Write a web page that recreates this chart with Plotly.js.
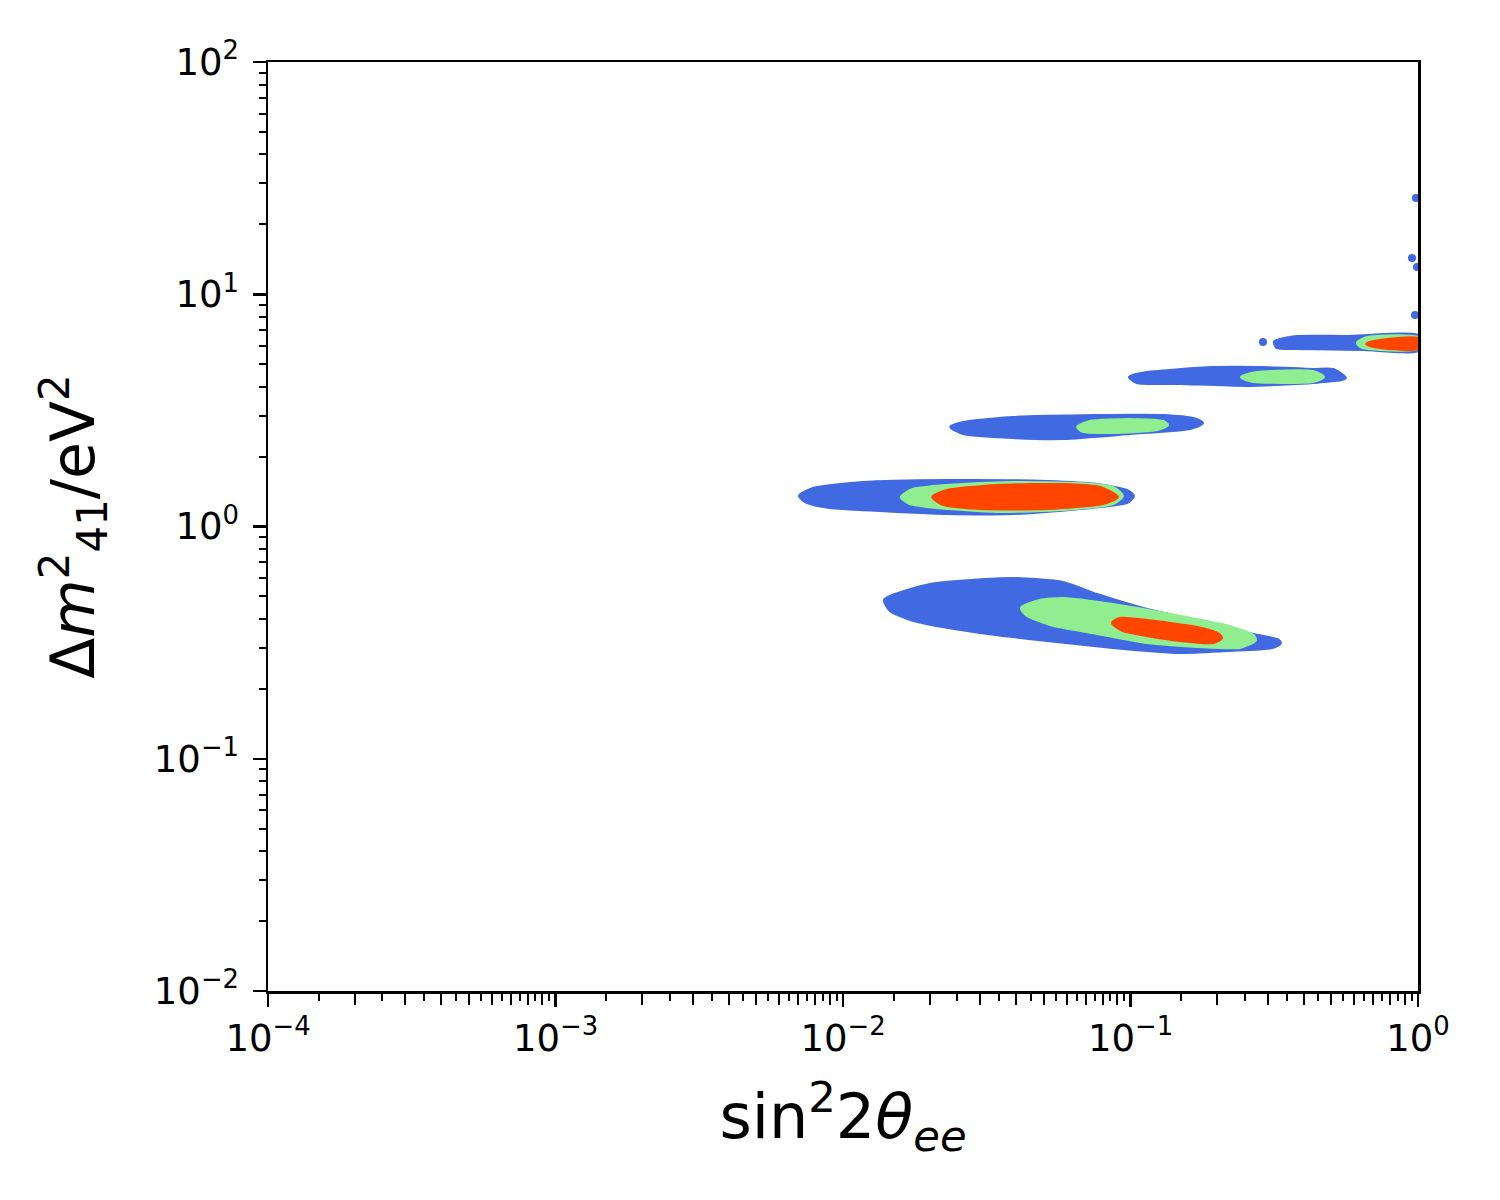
<!DOCTYPE html>
<html>
<head>
<meta charset="utf-8">
<script src="https://cdn.plot.ly/plotly-3.0.1.min.js"></script>
<style>
  body { margin: 0; background: #fff; }
  #chart { width: 1500px; height: 1200px; }
</style>
</head>
<body>
<div id="chart"></div>
<script>
// allowed regions (outlines of the point clouds)
// lowest island, dm2 ~ 0.3-0.6 eV^2
var lowBlueX  = [0.0140, 0.0201, 0.0390, 0.0582, 0.0764, 0.114, 0.194, 0.267, 0.323, 0.331, 0.313, 0.222, 0.149, 0.0869, 0.0513, 0.0300, 0.0175, 0.0146];
var lowBlueY  = [0.483, 0.560, 0.594, 0.571, 0.507, 0.437, 0.377, 0.341, 0.3245, 0.315, 0.303, 0.294, 0.288, 0.303, 0.3245, 0.351, 0.396, 0.437];
var lowGreenX = [0.0419, 0.0484, 0.0582, 0.0869, 0.149, 0.222, 0.267, 0.271, 0.240, 0.170, 0.114, 0.0764, 0.0538, 0.0437];
var lowGreenY = [0.446, 0.478, 0.487, 0.459, 0.408, 0.369, 0.338, 0.3245, 0.303, 0.306, 0.318, 0.348, 0.377, 0.416];
var lowRedX   = [0.0869, 0.0919, 0.114, 0.170, 0.2015, 0.2065, 0.194, 0.149, 0.114, 0.0942];
var lowRedY   = [0.384, 0.400, 0.392, 0.366, 0.344, 0.331, 0.318, 0.3245, 0.341, 0.358];

// island at dm2 ~ 1.35 eV^2
var midBlueX  = [0.00709, 0.00787, 0.01174, 0.0230, 0.0513, 0.0764, 0.0972, 0.102, 0.0972, 0.0667, 0.0390, 0.0230, 0.01345, 0.00901, 0.00750];
var midBlueY  = [1.353, 1.450, 1.539, 1.570, 1.555, 1.509, 1.422, 1.353, 1.275, 1.201, 1.143, 1.143, 1.178, 1.213, 1.275];
var midGreenX = [0.0160, 0.0175, 0.0230, 0.0390, 0.0667, 0.0869, 0.0934, 0.0869, 0.0582, 0.0343, 0.0212, 0.0171];
var midGreenY = [1.340, 1.436, 1.494, 1.539, 1.524, 1.465, 1.353, 1.262, 1.190, 1.166, 1.213, 1.262];
var midRedX   = [0.0206, 0.0230, 0.0343, 0.0582, 0.0783, 0.0897, 0.0802, 0.0513, 0.0300, 0.0223];
var midRedY   = [1.340, 1.422, 1.494, 1.509, 1.465, 1.340, 1.262, 1.201, 1.201, 1.250];

// island at dm2 ~ 2.7 eV^2
var band27BlueX  = [0.0238, 0.0262, 0.0390, 0.0764, 0.1297, 0.165, 0.1773, 0.161, 0.0996, 0.0582, 0.0390, 0.0262];
var band27BlueY  = [2.682, 2.791, 2.933, 2.991, 2.991, 2.904, 2.791, 2.656, 2.527, 2.404, 2.428, 2.527];
var band27GreenX = [0.0657, 0.0723, 0.0996, 0.1297, 0.134, 0.1236, 0.0869, 0.0684];
var band27GreenY = [2.682, 2.818, 2.875, 2.818, 2.735, 2.630, 2.552, 2.578];

// island at dm2 ~ 4.5 eV^2
var band45BlueX  = [0.0996, 0.114, 0.194, 0.289, 0.431, 0.506, 0.557, 0.431, 0.254, 0.149, 0.1053];
var band45BlueY  = [4.403, 4.581, 4.814, 4.814, 4.719, 4.719, 4.360, 4.190, 4.067, 4.148, 4.190];
var band45GreenX = [0.244, 0.275, 0.431, 0.467, 0.431, 0.267];
var band45GreenY = [4.403, 4.581, 4.627, 4.403, 4.232, 4.232];

// island at dm2 ~ 6.2 eV^2, running into sin^2 = 1
var band62BlueX  = [0.318, 0.379, 0.566, 0.665, 1.0, 1.0, 0.644, 0.379, 0.323];
var band62BlueY  = [6.229, 6.546, 6.546, 6.611, 6.611, 5.754, 5.811, 5.869, 5.927];
var band62GreenX = [0.618, 0.665, 1.0, 1.0, 0.639];
var band62GreenY = [6.167, 6.481, 6.481, 5.869, 5.927];
var band62RedX   = [0.665, 0.738, 1.0, 1.0, 0.738];
var band62RedY   = [6.106, 6.291, 6.417, 5.869, 5.927];

// stray points
var strayX = [0.289, 0.984, 0.953, 0.992, 0.976];
var strayY = [6.229, 25.97, 14.33, 13.10, 8.14];

// ticks
var decades = [1e-4, 1e-3, 1e-2, 1e-1, 1, 10, 100];
var decadeLabels = ['10<sup>\u22124</sup>', '10<sup>\u22123</sup>', '10<sup>\u22122</sup>', '10<sup>\u22121</sup>', '10<sup>0</sup>', '10<sup>1</sup>', '10<sup>2</sup>'];
var intSubs = [2, 3, 4, 5, 6, 7, 8, 9];
var halfSubs = [1.5, 2.5, 3.5, 4.5, 5.5, 6.5, 7.5, 8.5, 9.5];

var blue = '#4169E1', green = '#90EE90', red = '#FF4500';

function region(x, y, color) {
  return {
    x: x.concat([x[0]]), y: y.concat([y[0]]),
    type: 'scatter', mode: 'lines', fill: 'toself',
    fillcolor: color, line: {color: color, width: 4, shape: 'spline', smoothing: 0.6},
    hoverinfo: 'skip', showlegend: false
  };
}

var data = [
  region(lowBlueX, lowBlueY, blue),
  region(midBlueX, midBlueY, blue),
  region(band27BlueX, band27BlueY, blue),
  region(band45BlueX, band45BlueY, blue),
  region(band62BlueX, band62BlueY, blue),
  region(lowGreenX, lowGreenY, green),
  region(midGreenX, midGreenY, green),
  region(band27GreenX, band27GreenY, green),
  region(band45GreenX, band45GreenY, green),
  region(band62GreenX, band62GreenY, green),
  region(lowRedX, lowRedY, red),
  region(midRedX, midRedY, red),
  region(band62RedX, band62RedY, red),
  {x: strayX, y: strayY, type: 'scatter', mode: 'markers',
   marker: {color: blue, size: 8}, hoverinfo: 'skip', showlegend: false},
  // empty trace so the second x axis (long integer ticks) is drawn
  {x: [], y: [], type: 'scatter', xaxis: 'x2', yaxis: 'y', showlegend: false}
];

var xTickVals = [], xTickText = [], xIntTicks = [], xMinor = [];
var yTickVals = [], yTickText = [], yMinor = [];
for (var i = 0; i < decades.length; i++) {
  var d = decades[i];
  if (d <= 1) {
    xTickVals.push(d); xTickText.push(decadeLabels[i]);
    if (d < 1) {
      intSubs.forEach(function (m) { xIntTicks.push(m * d); });
      halfSubs.forEach(function (m) { xMinor.push(m * d); });
    }
  }
  if (d >= 1e-2) {
    yTickVals.push(d); yTickText.push(decadeLabels[i]);
    if (d < 100) intSubs.forEach(function (m) { yMinor.push(m * d); });
  }
}

var fam = 'DejaVu Sans, sans-serif';

var layout = {
  width: 1500, height: 1200,
  margin: {l: 268, r: 82, t: 62, b: 209},
  paper_bgcolor: '#fff', plot_bgcolor: '#fff',
  font: {family: fam, color: '#000'},
  showlegend: false,
  xaxis: {
    type: 'log', range: [-4, 0],
    showgrid: false, zeroline: false,
    showline: true, mirror: true, linecolor: '#000', linewidth: 2.5,
    ticks: 'outside', ticklen: 13, tickwidth: 2.5, tickcolor: '#000',
    tickmode: 'array', tickvals: xTickVals, ticktext: xTickText,
    tickfont: {family: fam, size: 37, color: '#000'},
    minor: {ticks: 'outside', tickmode: 'array', tickvals: xMinor, ticklen: 7, tickwidth: 2, tickcolor: '#000', showgrid: false},
    title: {text: 'sin<sup>2</sup>2<i>θ</i><sub><i>ee</i></sub>', font: {family: fam, size: 62, color: '#000'}, standoff: 36},
    automargin: false
  },
  xaxis2: {
    type: 'log', range: [-4, 0], overlaying: 'x', anchor: 'y', side: 'bottom',
    showgrid: false, zeroline: false, showline: false, showticklabels: false,
    ticks: 'outside', ticklen: 13, tickwidth: 2, tickcolor: '#000',
    tickmode: 'array', tickvals: xIntTicks,
    automargin: false
  },
  yaxis: {
    type: 'log', range: [-2, 2],
    showgrid: false, zeroline: false,
    showline: true, mirror: true, linecolor: '#000', linewidth: 2.5,
    ticks: 'outside', ticklen: 13, tickwidth: 2.5, tickcolor: '#000',
    tickmode: 'array', tickvals: yTickVals, ticktext: yTickText,
    tickfont: {family: fam, size: 37, color: '#000'},
    ticklabelstandoff: 6,
    minor: {ticks: 'outside', tickmode: 'array', tickvals: yMinor, ticklen: 7, tickwidth: 2, tickcolor: '#000', showgrid: false},
    title: {text: 'Δ<i>m</i><sup>2</sup><sub>41</sub>/eV<sup>2</sup>', font: {family: fam, size: 60, color: '#000'}, standoff: 40},
    automargin: false
  }
};

Plotly.newPlot('chart', data, layout, {staticPlot: true});
</script>
</body>
</html>
